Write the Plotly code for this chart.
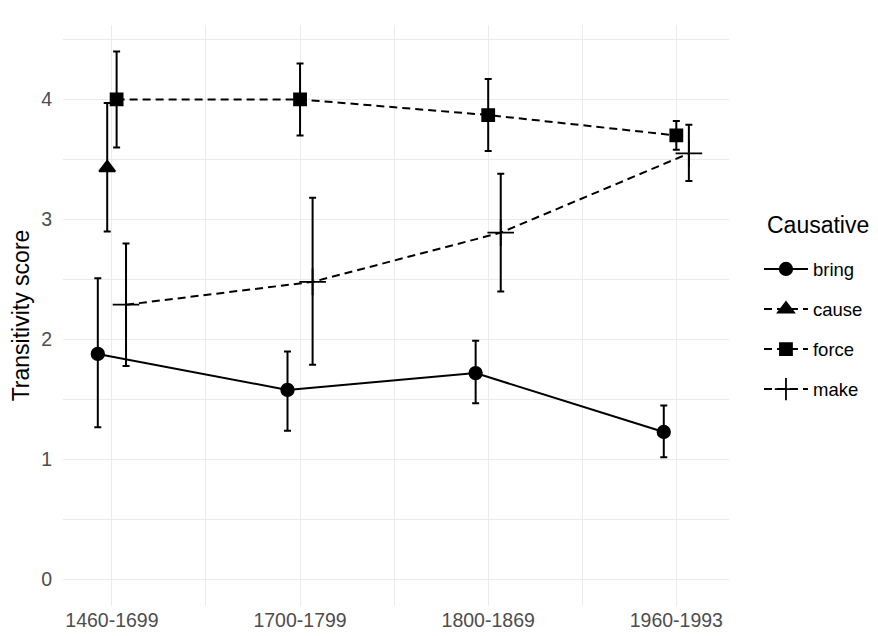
import plotly.graph_objects as go

periods = ["1460-1699", "1700-1799", "1800-1869", "1960-1993"]

bring_mean = [1.88, 1.58, 1.72, 1.23]
bring_lo = [1.27, 1.24, 1.47, 1.02]
bring_hi = [2.51, 1.90, 1.99, 1.45]

cause_periods = ["1460-1699"]
cause_mean = [3.43]
cause_lo = [2.90]
cause_hi = [3.97]

force_mean = [4.00, 4.00, 3.87, 3.70]
force_lo = [3.60, 3.70, 3.57, 3.58]
force_hi = [4.40, 4.30, 4.17, 3.82]

make_mean = [2.29, 2.48, 2.89, 3.55]
make_lo = [1.78, 1.79, 2.40, 3.32]
make_hi = [2.80, 3.18, 3.38, 3.79]

y_ticks = [0, 1, 2, 3, 4]

# dodge offsets (category units): 4 groups at first period, 3 groups elsewhere
dodge4 = {"bring": -0.075, "cause": -0.025, "force": 0.025, "make": 0.075}
dodge3 = {"bring": -0.0667, "force": 0.0, "make": 0.0667}


def xpos(name, plist):
    out = []
    for p in plist:
        i = periods.index(p) + 1
        off = dodge4[name] if p == periods[0] else dodge3[name]
        out.append(i + off)
    return out


series = [
    ("bring", periods, bring_mean, bring_lo, bring_hi, "solid", "circle", 12.5),
    ("cause", cause_periods, cause_mean, cause_lo, cause_hi, "8px,5px", "triangle-up", 14),
    ("force", periods, force_mean, force_lo, force_hi, "8px,5px", "square", 12),
    ("make", periods, make_mean, make_lo, make_hi, "8px,5px", "cross-thin-open", 19),
]

fig = go.Figure()
for name, plist, m, lo, hi, dash, sym, size in series:
    fig.add_trace(go.Scatter(
        x=xpos(name, plist), y=m, name=name, legendgroup=name,
        mode="lines+markers",
        line=dict(color="black", width=2, dash=dash),
        marker=dict(symbol=sym, size=size, color="black",
                    line=dict(color="black", width=1.8)),
        error_y=dict(type="data", symmetric=False,
                     array=[h - v for h, v in zip(hi, m)],
                     arrayminus=[v - l for v, l in zip(m, lo)],
                     color="black", thickness=2, width=3.5),
    ))

grid = "#EBEBEB"
fig.update_layout(
    width=878, height=636,
    margin=dict(l=55, r=157, t=17, b=38),
    plot_bgcolor="white", paper_bgcolor="white",
    font=dict(family="Liberation Sans, Arial, sans-serif", color="#4D4D4D"),
    legend=dict(
        font=dict(size=18.5, color="black"),
        x=1.045, xanchor="left", y=0.612, yanchor="top",
        tracegroupgap=13, itemwidth=44,
    ),
    annotations=[dict(
        text="Causative", xref="paper", yref="paper", x=1.054, y=0.656,
        xanchor="left", yanchor="middle", showarrow=False,
        font=dict(size=23, color="black"),
    )],
    xaxis=dict(
        range=[0.74, 4.28], tickvals=[1, 2, 3, 4], ticktext=periods,
        showgrid=True, gridcolor=grid, gridwidth=1.2, zeroline=False,
        showline=False, ticks="", tickfont=dict(size=19.5, color="#4D4D4D"),
        automargin=False,
        minor=dict(tick0=0.5, dtick=1, showgrid=True, gridcolor=grid, gridwidth=0.8),
    ),
    yaxis=dict(
        range=[-0.22, 4.62], tickvals=y_ticks,
        showgrid=True, gridcolor=grid, gridwidth=1.2, zeroline=False,
        showline=False, ticks="", tickfont=dict(size=19.5, color="#4D4D4D"),
        ticklabelstandoff=10, automargin=False,
        title=dict(text="Transitivity score", font=dict(size=23, color="black"), standoff=10),
        minor=dict(tick0=0.5, dtick=1, showgrid=True, gridcolor=grid, gridwidth=0.8),
    ),
)

fig.write_html("out.html")
